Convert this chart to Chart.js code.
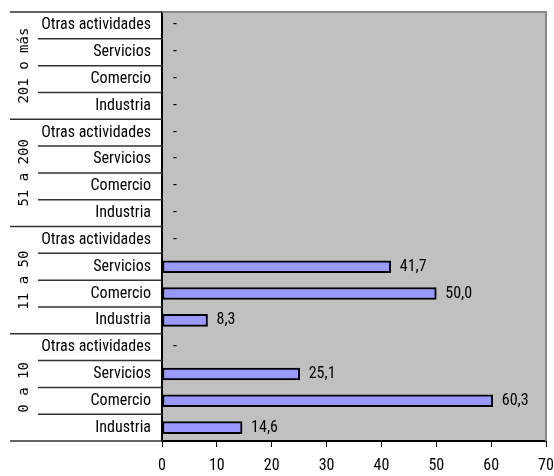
<!DOCTYPE html>
<html>
<head>
<meta charset="utf-8">
<script src="https://cdn.jsdelivr.net/npm/chart.js@4"></script>
<style>
  body { margin: 0; background: #fff; }
</style>
</head>
<body>
<canvas id="js--chart" width="554" height="476"></canvas>
<script>
const groups = ["201 o más", "51 a 200", "11 a 50", "0 a 10"];
const sectors = ["Otras actividades", "Servicios", "Comercio", "Industria"];
// valores por tamaño, en el orden de sectors (null = "-")
const values201 = [null, null, null, null];
const values51 = [null, null, null, null];
const values11 = [null, 41.7, 50.0, 8.3];
const values0 = [null, 25.1, 60.3, 14.6];
const xTicks = [0, 10, 20, 30, 40, 50, 60, 70];

const narrow = "'Roboto Condensed', 'DejaVu Sans Condensed', sans-serif";

let labels = [];
groups.forEach(function () {
  sectors.forEach(function (s) {
    labels.push(s);
  });
});
const values = values201.concat(values51, values11, values0);

const chartDeco = {
  id: "chartDeco",
  beforeDraw: function (chart) {
    const a = chart.chartArea;
    const ctx = chart.ctx;
    ctx.save();
    ctx.fillStyle = "#c0c0c0";
    ctx.fillRect(a.left, a.top, a.right - a.left, a.bottom - a.top);
    ctx.restore();
  },
  afterDatasetsDraw: function (chart) {
    const a = chart.chartArea;
    const ctx = chart.ctx;
    const yScale = chart.scales.y;
    const xScale = chart.scales.x;
    ctx.save();
    ctx.fillStyle = "#000";
    ctx.font = "16px " + narrow;
    ctx.textBaseline = "middle";
    ctx.textAlign = "left";
    values.forEach(function (v, i) {
      const y = yScale.getPixelForValue(i);
      if (v === null) {
        ctx.fillText("-", a.left + 11, y);
      } else {
        ctx.fillText(v.toFixed(1).replace(".", ","), xScale.getPixelForValue(v) + 9, y);
      }
    });
    ctx.restore();
  },
  afterDraw: function (chart) {
    const a = chart.chartArea;
    const ctx = chart.ctx;
    const n = labels.length;
    const rowH = (a.bottom - a.top) / n;
    ctx.save();
    // borde gris arriba y a la derecha
    ctx.strokeStyle = "#8a8a8a";
    ctx.lineWidth = 2;
    ctx.beginPath();
    ctx.moveTo(a.left, a.top);
    ctx.lineTo(a.right, a.top);
    ctx.lineTo(a.right, a.bottom);
    ctx.stroke();
    // lineas de separacion de categorias
    ctx.strokeStyle = "#333";
    ctx.lineWidth = 1.5;
    for (let i = 0; i <= n; i++) {
      const y = a.top + i * rowH;
      ctx.beginPath();
      ctx.moveTo(i % 4 === 0 ? 10 : 38, y);
      ctx.lineTo(a.left, y);
      ctx.stroke();
    }
    // etiquetas de grupo giradas
    ctx.fillStyle = "#000";
    ctx.font = "14px 'DejaVu Sans Mono', monospace";
    ctx.textAlign = "center";
    ctx.textBaseline = "middle";
    groups.forEach(function (g, k) {
      ctx.save();
      ctx.translate(24, a.top + (k * 4 + 2) * rowH);
      ctx.rotate(-Math.PI / 2);
      ctx.fillText(g, 0, 0);
      ctx.restore();
    });
    ctx.restore();
  }
};

const data = {
  labels: labels,
  datasets: [
    {
      data: values,
      backgroundColor: "#9999ff",
      borderColor: "#000",
      borderWidth: 2,
      borderSkipped: false,
      barThickness: 12
    }
  ]
};

const config = {
  type: "bar",
  data: data,
  options: {
    indexAxis: "y",
    responsive: false,
    animation: false,
    layout: { padding: { top: 12, right: 8, left: 0, bottom: 0 } },
    plugins: {
      legend: { display: false },
      tooltip: { enabled: false }
    },
    scales: {
      x: {
        min: 0,
        max: 70,
        afterBuildTicks: function (scale) {
          scale.ticks = xTicks.map(function (t) { return { value: t }; });
        },
        afterFit: function (scale) {
          scale.height = 35;
          scale.paddingLeft = 0;
          scale.paddingRight = 0;
        },
        ticks: { color: "#000", font: { family: narrow, size: 16 }, padding: 9 },
        grid: { drawOnChartArea: false, color: "#000", tickLength: 6 },
        border: { color: "#000", width: 2 }
      },
      y: {
        afterFit: function (scale) {
          scale.width = 162;
          scale.paddingTop = 0;
          scale.paddingBottom = 0;
        },
        ticks: { color: "#000", font: { family: narrow, size: 16 }, padding: 11, autoSkip: false },
        grid: { display: true, color: "transparent", drawTicks: false },
        border: { color: "#000", width: 2 }
      }
    }
  },
  plugins: [chartDeco]
};

new Chart(document.getElementById("js--chart"), config);
</script>
</body>
</html>
